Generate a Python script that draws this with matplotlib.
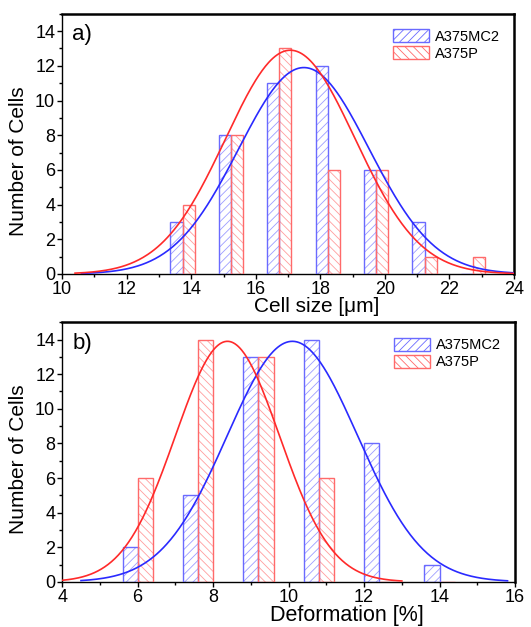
import matplotlib
matplotlib.use("Agg")
import matplotlib.pyplot as plt
import numpy as np
from matplotlib.patches import Patch
from matplotlib.ticker import MultipleLocator

plt.rcParams['font.family'] = ['Liberation Sans', 'DejaVu Sans']
plt.rcParams['hatch.linewidth'] = 0.6

# ---- data: panel a) cell size ----
size_centers = [13.73, 15.23, 16.73, 18.23, 19.73, 21.23, 22.73]
size_mc2 = [3, 8, 11, 12, 6, 3, 0]
size_p = [4, 8, 13, 6, 6, 1, 1]
size_fit_mc2 = (11.9, 17.49, 2.02)   # amplitude, mean, sigma
size_fit_p = (12.9, 17.07, 2.0)

# ---- data: panel b) deformation ----
def_centers = [6.0, 7.6, 9.2, 10.8, 12.4, 14.0]
def_mc2 = [2, 5, 13, 14, 8, 1]
def_p = [6, 14, 13, 6, 0, 0]
def_fit_mc2 = (13.9, 10.1, 1.73)
def_fit_p = (13.9, 8.38, 1.38)

labels = ['A375MC2', 'A375P']
BLUE = '#2a2aff'
RED = '#ff2a2a'
BLUE_H = '#9d9dff'
RED_H = '#ff9d9d'
BLUE_E = '#6a6aff'
RED_E = '#ff6a6a'


def gauss(x, a, m, s):
    return a * np.exp(-(x - m) ** 2 / (2 * s ** 2))


def panel(ax, centers, v1, v2, w, fit1, fit2, xr1, xr2, xlim, xlabel, tag,
          xlabpos, xlaby, xlabsize, ylabpos, xpad):
    c = np.array(centers)
    for vals, sign, hc, ec, h in [(v1, -1, BLUE_H, BLUE_E, '////'),
                                  (v2, 1, RED_H, RED_E, '\\\\\\\\')]:
        ax.bar(c, vals, width=sign * w, align='edge', facecolor='none',
               edgecolor=hc, hatch=h, linewidth=0, zorder=2)
        ax.bar(c, vals, width=sign * w, align='edge', facecolor='none',
               edgecolor=ec, linewidth=1.0, zorder=3)
    x1 = np.linspace(*xr1, 400)
    x2 = np.linspace(*xr2, 400)
    ax.plot(x1, gauss(x1, *fit1), color=BLUE, lw=1.2, zorder=4)
    ax.plot(x2, gauss(x2, *fit2), color=RED, lw=1.2, zorder=4)
    ax.set_xlim(*xlim)
    ax.set_ylim(0, 15)
    ax.set_yticks(range(0, 15, 2))
    ax.xaxis.set_major_locator(MultipleLocator(2))
    ax.xaxis.set_minor_locator(MultipleLocator(1))
    ax.yaxis.set_minor_locator(MultipleLocator(1))
    ax.tick_params(which='both', direction='out', top=False, right=False,
                   labelsize=13, width=1.0)
    ax.tick_params(axis='x', pad=xpad)
    ax.tick_params(axis='y', pad=1.5)
    ax.tick_params(which='major', length=3.5)
    ax.tick_params(which='minor', length=2.5)
    for s in ['top', 'right']:
        ax.spines[s].set_linewidth(1.8)
    for s in ['left', 'bottom']:
        ax.spines[s].set_linewidth(1.0)
    ax.set_xlabel(xlabel, fontsize=xlabsize, labelpad=0)
    ax.set_ylabel('Number of Cells', fontsize=15)
    ax.xaxis.set_label_coords(xlabpos, xlaby)
    ax.yaxis.set_label_coords(-0.075, ylabpos)
    ax.text(0.022, 0.92, tag, transform=ax.transAxes, fontsize=16,
            ha='left', va='center')
    handles = [Patch(facecolor='none', edgecolor=BLUE_E, hatch='////', lw=1.0),
               Patch(facecolor='none', edgecolor=RED_E, hatch='\\\\\\\\', lw=1.0)]
    ax.legend(handles, labels, loc='upper right', frameon=False, fontsize=10.5,
              handlelength=2.5, handleheight=1.0, labelspacing=0.15,
              handletextpad=0.4, borderaxespad=0.4,
              bbox_to_anchor=(0.995, 0.985))


fig = plt.figure(figsize=(5.31, 6.27), dpi=100)
ax1 = fig.add_axes([0.117, 0.563, 0.851, 0.415])
ax2 = fig.add_axes([0.117, 0.072, 0.853, 0.414])

panel(ax1, size_centers, size_mc2, size_p, 0.375, size_fit_mc2, size_fit_p,
      (10.6, 24), (10.4, 24), (10, 24), 'Cell size [μm]', 'a)',
      0.564, -0.09, 15, 0.435, 1.5)
panel(ax2, def_centers, def_mc2, def_p, 0.4, def_fit_mc2, def_fit_p,
      (4.5, 15.8), (4.0, 13.0), (4, 16), 'Deformation [%]', 'b)',
      0.628, -0.09, 15.5, 0.473, 1.5)

fig.savefig('out.png', dpi=100)
